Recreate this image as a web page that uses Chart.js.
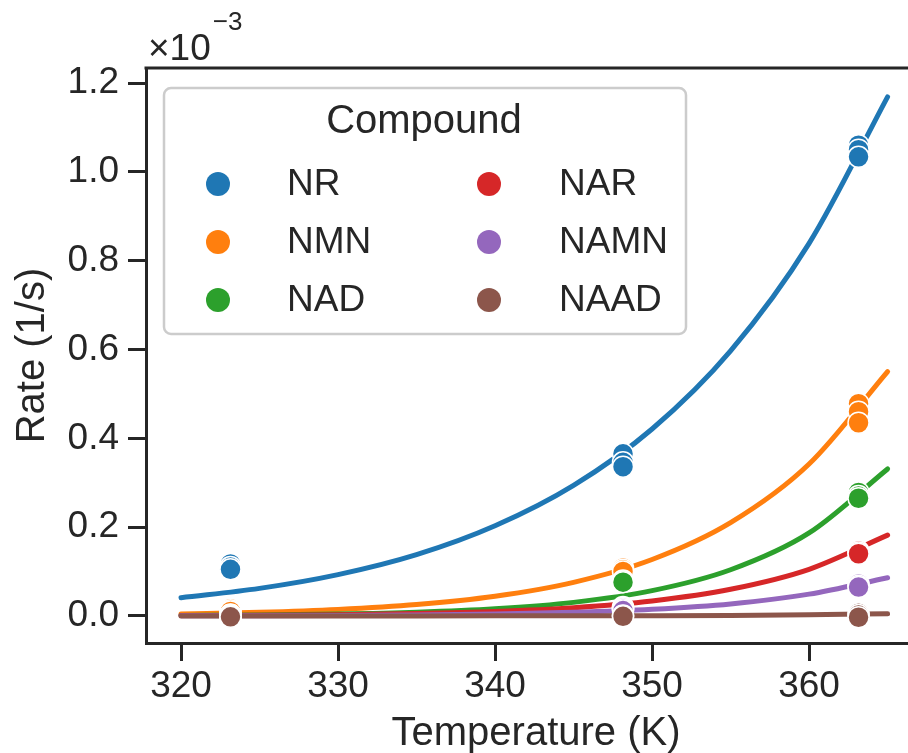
<!DOCTYPE html>
<html>
<head>
<meta charset="utf-8">
<script src="https://cdn.jsdelivr.net/npm/chart.js@4"></script>
<style>
  html, body { margin: 0; padding: 0; background: #ffffff; }
  #wrap { width: 908px; height: 753px; }
</style>
</head>
<body>
<div id="wrap"><canvas id="rateChart" width="908" height="753"></canvas></div>
<script>
// compounds and colours (tab10)
const compounds = ['NR', 'NMN', 'NAD', 'NAR', 'NAMN', 'NAAD'];
const colors = ['#1f77b4', '#ff7f0e', '#2ca02c', '#d62728', '#9467bd', '#8c564b'];

// measured temperatures (K), three replicates each
const sampleT = [323.15, 323.15, 323.15, 348.15, 348.15, 348.15, 363.15, 363.15, 363.15];

// measured rates, units of 1e-3 1/s
const rateNR   = [0.117, 0.110, 0.105, 0.365, 0.346, 0.336, 1.060, 1.050, 1.034];
const rateNMN  = [0.016, 0.013, 0.010, 0.108, 0.104, 0.100, 0.478, 0.460, 0.435];
const rateNAD  = [0.003, 0.002, 0.001, 0.080, 0.078, 0.076, 0.278, 0.270, 0.265];
const rateNAR  = [0.002, 0.001, 0.000, 0.020, 0.017, 0.015, 0.146, 0.143, 0.140];
const rateNAMN = [0.001, 0.000, 0.000, 0.018, 0.015, 0.012, 0.072, 0.068, 0.065];
const rateNAAD = [0.001, 0.000, -0.002, 0.001, 0.000, -0.001, 0.006, 0.002, -0.003];

// fitted curves read at 5 K steps
const curveT = [320, 325, 330, 335, 340, 345, 350, 355, 360, 365];
const fitNR   = [0.041, 0.062, 0.093, 0.138, 0.203, 0.294, 0.421, 0.597, 0.839, 1.169];
const fitNMN  = [0.0045, 0.0082, 0.0146, 0.0256, 0.0444, 0.0756, 0.127, 0.210, 0.342, 0.550];
const fitNAD  = [0.0010, 0.0021, 0.0042, 0.0083, 0.0161, 0.0305, 0.0569, 0.104, 0.187, 0.331];
const fitNAR  = [0.0007, 0.0014, 0.0028, 0.0053, 0.0100, 0.0185, 0.0336, 0.060, 0.105, 0.182];
const fitNAMN = [0.0003, 0.0006, 0.0011, 0.0022, 0.0043, 0.0081, 0.0150, 0.027, 0.049, 0.086];
const fitNAAD = [0.0000, 0.0000, 0.0000, 0.0000, 0.0001, 0.0003, 0.0006, 0.0012, 0.0025, 0.005];

const xTicks = [320, 330, 340, 350, 360];
const yTicks = [0.0, 0.2, 0.4, 0.6, 0.8, 1.0, 1.2];

const rates = [rateNR, rateNMN, rateNAD, rateNAR, rateNAMN, rateNAAD];
const fits = [fitNR, fitNMN, fitNAD, fitNAR, fitNAMN, fitNAAD];

const INK = '#262626';
const FONT = '"Liberation Sans", Arial, sans-serif';

// build datasets: fitted lines underneath, points on top
// (later compounds are drawn over earlier ones, as in the original)
const n = compounds.length;
const datasets = [];
compounds.forEach((name, i) => {
    datasets.push({
        label: name + ' fit',
        data: curveT.map((t, k) => ({ x: t, y: fits[i][k] })),
        showLine: true,
        borderColor: colors[i],
        borderWidth: 5,
        borderCapStyle: 'round',
        cubicInterpolationMode: 'monotone',
        pointRadius: 0,
        order: 20 + (n - i)
    });
});
compounds.forEach((name, i) => {
    datasets.push({
        label: name,
        data: sampleT.map((t, k) => ({ x: t, y: rates[i][k] })),
        backgroundColor: colors[i],
        borderColor: '#ffffff',
        borderWidth: 1.5,
        pointRadius: 10.5,
        pointHoverRadius: 10.5,
        order: n - i
    });
});

// spines, axis titles, offset text and legend
const decorPlugin = {
    id: 'decor',
    afterDraw(chart) {
        const ctx = chart.ctx;
        const a = chart.chartArea;
        ctx.save();

        // top spine (right spine falls outside the canvas)
        ctx.strokeStyle = INK;
        ctx.lineWidth = 3;
        ctx.beginPath();
        ctx.moveTo(a.left - 1.5, a.top);
        ctx.lineTo(chart.width, a.top);
        ctx.stroke();

        ctx.fillStyle = INK;

        // x title, centred on the full axes (right spine at ~926px)
        ctx.font = '40px ' + FONT;
        ctx.textAlign = 'center';
        ctx.textBaseline = 'middle';
        ctx.fillText('Temperature (K)', (a.left + 926) / 2, 734);

        // y title
        ctx.save();
        ctx.translate(33, (a.top + a.bottom) / 2);
        ctx.rotate(-Math.PI / 2);
        ctx.fillText('Rate (1/s)', 0, 0);
        ctx.restore();

        // offset text ×10^-3
        ctx.textAlign = 'left';
        ctx.textBaseline = 'alphabetic';
        ctx.font = '37px ' + FONT;
        ctx.fillText('\u00d710', 148, 60);
        const w = ctx.measureText('\u00d710').width;
        ctx.font = '26px ' + FONT;
        ctx.fillText('\u22123', 148 + w + 2, 30);

        // legend box
        const bx = 164, by = 88, bw = 522, bh = 246;
        ctx.beginPath();
        ctx.roundRect(bx, by, bw, bh, 7);
        ctx.fillStyle = 'rgba(255,255,255,0.8)';
        ctx.fill();
        ctx.strokeStyle = '#cccccc';
        ctx.lineWidth = 2.5;
        ctx.stroke();

        ctx.fillStyle = INK;
        ctx.font = '40px ' + FONT;
        ctx.textAlign = 'center';
        ctx.textBaseline = 'middle';
        ctx.fillText('Compound', 424, 122);

        const colX = [218, 489];
        const labX = [287, 559];
        const rowY = [184, 242, 300];
        ctx.font = '37px ' + FONT;
        ctx.textAlign = 'left';
        compounds.forEach((name, i) => {
            const c = Math.floor(i / 3), r = i % 3;
            ctx.beginPath();
            ctx.arc(colX[c], rowY[r], 12, 0, Math.PI * 2);
            ctx.fillStyle = colors[i];
            ctx.fill();
            ctx.fillStyle = INK;
            ctx.fillText(name, labX[c], rowY[r] + 1);
        });

        ctx.restore();
    }
};

const ctx = document.getElementById('rateChart').getContext('2d');
new Chart(ctx, {
    type: 'scatter',
    data: { datasets: datasets },
    options: {
        responsive: false,
        animation: false,
        layout: { autoPadding: false, padding: { top: 68, right: 0, bottom: 0, left: 0 } },
        plugins: {
            legend: { display: false },
            tooltip: { enabled: false }
        },
        scales: {
            x: {
                type: 'linear',
                min: 317.77,
                max: 366.3,
                afterBuildTicks: (scale) => { scale.ticks = xTicks.map(v => ({ value: v })); },
                afterFit: (scale) => {
                    scale.height = 110;
                    scale.paddingLeft = 0;
                    scale.paddingRight = 0;
                },
                grid: { display: true, drawOnChartArea: false, drawTicks: true, tickLength: 18, lineWidth: 3, color: INK },
                border: { display: true, width: 3, color: INK },
                ticks: {
                    color: INK,
                    font: { size: 37, family: FONT },
                    padding: 4,
                    maxRotation: 0,
                    callback: (v) => String(v)
                }
            },
            y: {
                type: 'linear',
                min: -0.061,
                max: 1.234,
                afterBuildTicks: (scale) => { scale.ticks = yTicks.map(v => ({ value: v })); },
                afterFit: (scale) => {
                    scale.width = 146;
                    scale.paddingTop = 0;
                    scale.paddingBottom = 0;
                },
                grid: { display: true, drawOnChartArea: false, drawTicks: true, tickLength: 18, lineWidth: 3, color: INK },
                border: { display: true, width: 3, color: INK },
                ticks: {
                    color: INK,
                    font: { size: 37, family: FONT },
                    padding: 9,
                    callback: (v) => Number(v).toFixed(1)
                }
            }
        }
    },
    plugins: [decorPlugin]
});
</script>
</body>
</html>
